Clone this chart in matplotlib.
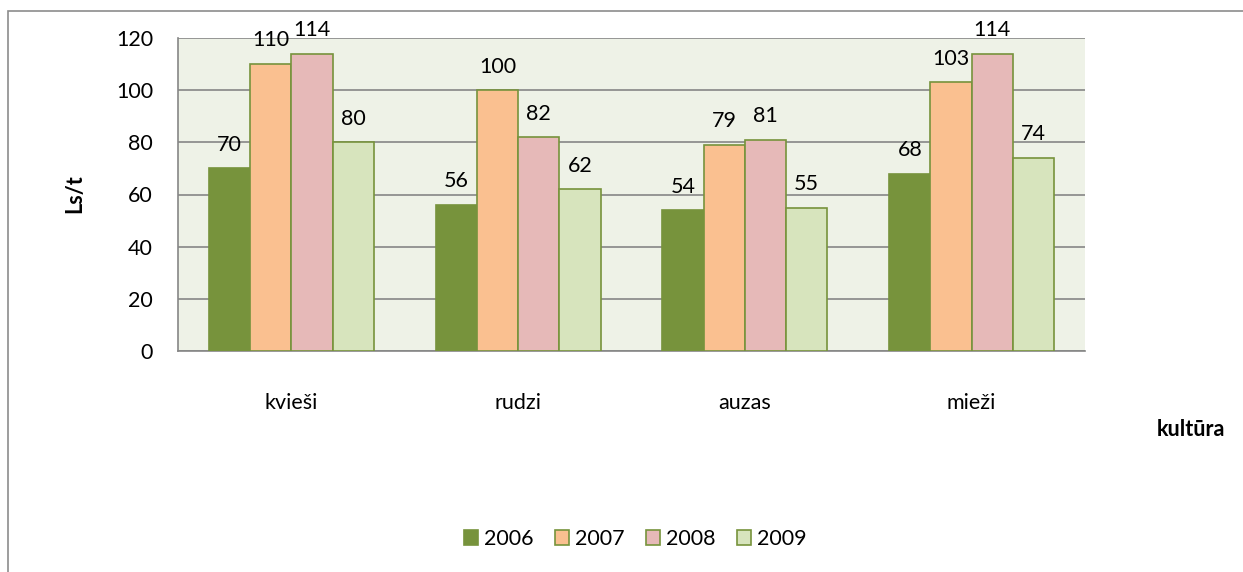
import numpy as np
import matplotlib.pyplot as plt
from matplotlib.patches import Rectangle

# dati
kulturas = ['kvieši', 'rudzi', 'auzas', 'mieži']
gadi = ['2006', '2007', '2008', '2009']
v2006 = [70, 56, 54, 68]
v2007 = [110, 100, 79, 103]
v2008 = [114, 82, 81, 114]
v2009 = [80, 62, 55, 74]

krasas = ['#77933C', '#FAC090', '#E6B9B8', '#D7E4BD']
mala = '#77933C'

plt.rcParams['font.family'] = ['Lato', 'DejaVu Sans']

fig = plt.figure(figsize=(12.43, 5.72), dpi=100)
ax = fig.add_axes([178/1243, 1 - 351/572, (1085-178)/1243, (351-38)/572])
ax.set_facecolor('#EEF2E7')

# ārējais rāmis
fig.patches.append(Rectangle((8/1243, -0.1), 1.1, 1 - 11/572 + 0.1,
                             transform=fig.transFigure, fill=False,
                             edgecolor='#8C8C8C', linewidth=1.2))

x = np.arange(len(kulturas))
w = 1 / 5.5
for i, (vals, c, g) in enumerate(zip([v2006, v2007, v2008, v2009], krasas, gadi)):
    pos = x + (i - 1.5) * w
    ax.bar(pos, vals, w, color=c, edgecolor=mala, linewidth=1.2, label=g, zorder=3)
    for p, v in zip(pos, vals):
        ax.annotate(str(v), (p, v), xytext=(0, 17), textcoords='offset points',
                    ha='center', va='center', fontsize=15.5)

ax.set_ylim(0, 120)
ax.set_xlim(-0.5, 3.5)
ax.set_yticks(range(0, 121, 20))
ax.yaxis.grid(True, color='#868686', linewidth=1.2, zorder=0)
ax.set_axisbelow(True)
ax.set_xticks(x)
ax.set_xticklabels(kulturas)
ax.tick_params(axis='x', length=0, pad=30, labelsize=15.5)
ax.tick_params(axis='y', length=0, pad=18, labelsize=15.5)
for s in ['top', 'right']:
    ax.spines[s].set_visible(False)
for s in ['left', 'bottom']:
    ax.spines[s].set_color('#868686')
    ax.spines[s].set_linewidth(1.2)

fig.text(75/1243, 1 - 194/572, 'Ls/t', rotation=90, ha='center', va='center',
         fontsize=15.5, fontweight='bold')
fig.text(1191/1243, 1 - 430/572, 'kultūra', ha='center', va='center',
         fontsize=15.5, fontweight='bold')

fig.legend(loc='center', bbox_to_anchor=(635/1243, 1 - 539/572), ncol=4,
           frameon=False, fontsize=15.5, handlelength=0.65, handleheight=0.65,
           handletextpad=0.28, columnspacing=1.0, borderpad=0)

plt.savefig('out.png', dpi=100)
